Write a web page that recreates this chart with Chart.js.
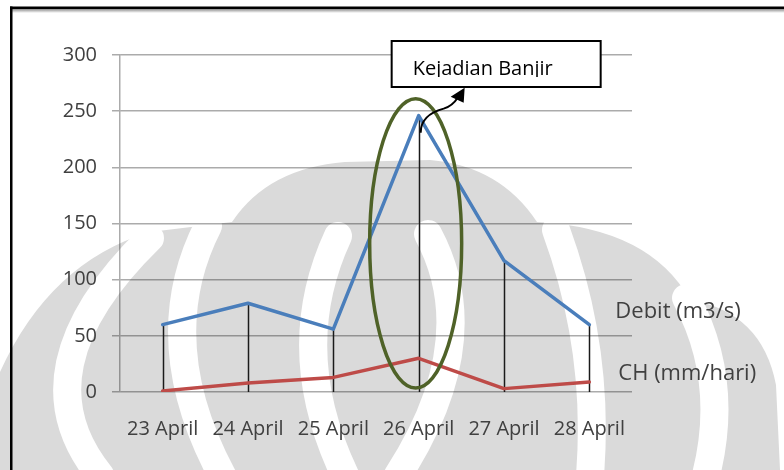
<!DOCTYPE html>
<html>
<head>
<meta charset="utf-8">
<script src="https://cdn.jsdelivr.net/npm/chart.js@4.4.1/dist/chart.umd.min.js"></script>
<style>
  html, body { margin: 0; padding: 0; background: #ffffff; }
  #wrap { position: relative; width: 784px; height: 470px; }
  canvas { display: block; }
</style>
</head>
<body>
<div id="wrap"><canvas id="chart" width="784" height="470"></canvas></div>
<script>
// Daily discharge and rainfall, 23-28 April
const categories = ['23 April', '24 April', '25 April', '26 April', '27 April', '28 April'];
const debit = [60, 79, 56, 246, 117, 60];          // Debit (m3/s)
const curahHujan = [1, 8, 13, 30, 3, 9];           // CH (mm/hari)
const seriesNames = ['Debit (m3/s)', 'CH (mm/hari)'];
const yMin = 0, yMax = 300, yStep = 50;
const floodIndex = 3;                               // 26 April
const floodNote = 'Kejadian Banjir';

const FONT = '"Open Sans", "DejaVu Sans", sans-serif';
const TEXT = '#404040';
const GRID = 'rgba(0,0,0,0.33)';

// Faint emblem in the background
function drawEmblem(ctx) {
  ctx.save();
  ctx.fillStyle = '#dadada';
  ctx.beginPath();
  ctx.moveTo(0, 470);
  ctx.lineTo(0, 372);
  ctx.quadraticCurveTo(50, 262, 150, 232);
  ctx.lineTo(232, 222);
  ctx.quadraticCurveTo(268, 168, 345, 162);
  ctx.lineTo(430, 160);
  ctx.quadraticCurveTo(500, 166, 537, 222);
  ctx.quadraticCurveTo(650, 228, 690, 300);
  ctx.quadraticCurveTo(762, 312, 776, 385);
  ctx.lineTo(780, 470);
  ctx.closePath();
  ctx.fill();

  // light curved bands: start, control, end, width
  ctx.strokeStyle = '#ffffff';
  ctx.lineCap = 'round';
  const bands = [
    [150, 238, 15, 370, 100, 475, 28],
    [208, 226, 150, 340, 222, 475, 28],
    [338, 236, 285, 350, 345, 475, 28],
    [428, 234, 485, 340, 398, 475, 28],
    [556, 230, 600, 350, 590, 475, 28],
    [686, 298, 730, 380, 706, 475, 28]
  ];
  bands.forEach(b => {
    ctx.lineWidth = b[6];
    ctx.beginPath();
    ctx.moveTo(b[0], b[1]);
    ctx.quadraticCurveTo(b[2], b[3], b[4], b[5]);
    ctx.stroke();
  });
  ctx.restore();
}

const decorations = {
  id: 'decorations',
  beforeDraw(chart) {
    const ctx = chart.ctx;
    ctx.save();
    ctx.fillStyle = '#ffffff';
    ctx.fillRect(0, 0, chart.width, chart.height);
    ctx.restore();
    drawEmblem(ctx);
  },
  beforeDatasetsDraw(chart) {
    // vertical drop lines from each point to the baseline
    const ctx = chart.ctx, xs = chart.scales.x, ys = chart.scales.y;
    ctx.save();
    ctx.strokeStyle = '#1a1a1a';
    ctx.lineWidth = 1.5;
    categories.forEach((c, i) => {
      const x = Math.round(xs.getPixelForValue(i)) + 0.5;
      const top = ys.getPixelForValue(Math.max(debit[i], curahHujan[i]));
      ctx.beginPath();
      ctx.moveTo(x, top);
      ctx.lineTo(x, ys.getPixelForValue(0));
      ctx.stroke();
    });
    ctx.restore();
  },
  afterDatasetsDraw(chart) {
    const ctx = chart.ctx, xs = chart.scales.x, ys = chart.scales.y;
    const last = categories.length - 1;
    const xl = xs.getPixelForValue(last);

    // series names at the end of each line
    ctx.save();
    ctx.fillStyle = TEXT;
    ctx.font = '22px ' + FONT;
    ctx.textBaseline = 'alphabetic';
    ctx.fillText(seriesNames[0], xl + 26, ys.getPixelForValue(debit[last]) - 7);
    ctx.fillText(seriesNames[1], xl + 29, ys.getPixelForValue(curahHujan[last]) - 2);
    ctx.restore();

    // ellipse around the flood day
    const xf = xs.getPixelForValue(floodIndex);
    const yPeak = ys.getPixelForValue(debit[floodIndex]);
    const yBase = ys.getPixelForValue(0);
    const eTop = yPeak - 17, eBot = yBase - 4;
    ctx.save();
    ctx.strokeStyle = '#4f6228';
    ctx.lineWidth = 3.5;
    ctx.beginPath();
    ctx.ellipse(xf - 3, (eTop + eBot) / 2, 46, (eBot - eTop) / 2, 0, 0, Math.PI * 2);
    ctx.stroke();
    ctx.restore();

    // note box
    const bx = xf - 27, by = ys.getPixelForValue(yMax) - 14, bw = 209, bh = 46;
    ctx.save();
    ctx.fillStyle = '#ffffff';
    ctx.fillRect(bx, by, bw, bh);
    ctx.strokeStyle = '#000000';
    ctx.lineWidth = 2;
    ctx.strokeRect(bx, by, bw, bh);
    ctx.beginPath();
    ctx.rect(bx, by, bw, 36);
    ctx.clip();
    ctx.fillStyle = '#000000';
    ctx.font = '20px ' + FONT;
    ctx.textBaseline = 'alphabetic';
    ctx.fillText(floodNote, bx + 21, by + 34);
    ctx.restore();

    // curved arrow from the peak to the note
    const ax = xf + 2, ay = yPeak + 17;
    ctx.save();
    ctx.strokeStyle = '#000000';
    ctx.fillStyle = '#000000';
    ctx.lineWidth = 2;
    ctx.beginPath();
    ctx.moveTo(ax, ay);
    ctx.bezierCurveTo(ax, ay - 15, ax + 12, ay - 21, ax + 23, ay - 24);
    ctx.quadraticCurveTo(ax + 32, ay - 27, ax + 37, ay - 35);
    ctx.stroke();
    ctx.beginPath();
    ctx.moveTo(ax + 44, ay - 45);
    ctx.lineTo(ax + 30, ay - 36);
    ctx.lineTo(ax + 43, ay - 30);
    ctx.closePath();
    ctx.fill();
    ctx.restore();
  },
  afterDraw(chart) {
    // frame along the top and left edges
    const ctx = chart.ctx;
    ctx.save();
    const g = ctx.createLinearGradient(0, 9, 0, 13);
    g.addColorStop(0, 'rgba(0,0,0,0.45)');
    g.addColorStop(1, 'rgba(0,0,0,0)');
    ctx.fillStyle = g;
    ctx.fillRect(12, 9, chart.width - 12, 4);
    ctx.fillStyle = '#000000';
    ctx.fillRect(10, 6.5, chart.width - 10, 2.5);
    ctx.fillRect(10, 6.5, 2.5, chart.height);
    ctx.restore();
  }
};

new Chart(document.getElementById('chart'), {
  type: 'line',
  data: {
    labels: categories,
    datasets: [
      {
        label: seriesNames[0],
        data: debit,
        borderColor: '#4a7ebb',
        borderWidth: 3.5,
        pointRadius: 0,
        tension: 0,
        borderJoinStyle: 'round',
        borderCapStyle: 'round'
      },
      {
        label: seriesNames[1],
        data: curahHujan,
        borderColor: '#be4b48',
        borderWidth: 3.5,
        pointRadius: 0,
        tension: 0,
        borderJoinStyle: 'round',
        borderCapStyle: 'round'
      }
    ]
  },
  options: {
    responsive: false,
    animation: false,
    devicePixelRatio: 1,
    layout: { padding: { top: 55, right: 152, left: 0, bottom: 0 } },
    plugins: {
      legend: { display: false },
      tooltip: { enabled: false }
    },
    scales: {
      x: {
        offset: true,
        grid: { display: false },
        border: { display: false },
        ticks: {
          color: TEXT,
          font: { family: FONT, size: 20 },
          padding: 17,
          maxRotation: 0,
          autoSkip: false
        },
        afterFit(s) { s.height = 78; }
      },
      y: {
        min: yMin,
        max: yMax,
        grid: { color: GRID, lineWidth: 1.5, tickLength: 8 },
        border: { color: GRID, width: 1.5 },
        ticks: {
          stepSize: yStep,
          color: TEXT,
          font: { family: FONT, size: 20 },
          padding: 15
        },
        afterFit(s) { s.width = 120; }
      }
    }
  },
  plugins: [decorations]
});
</script>
</body>
</html>
